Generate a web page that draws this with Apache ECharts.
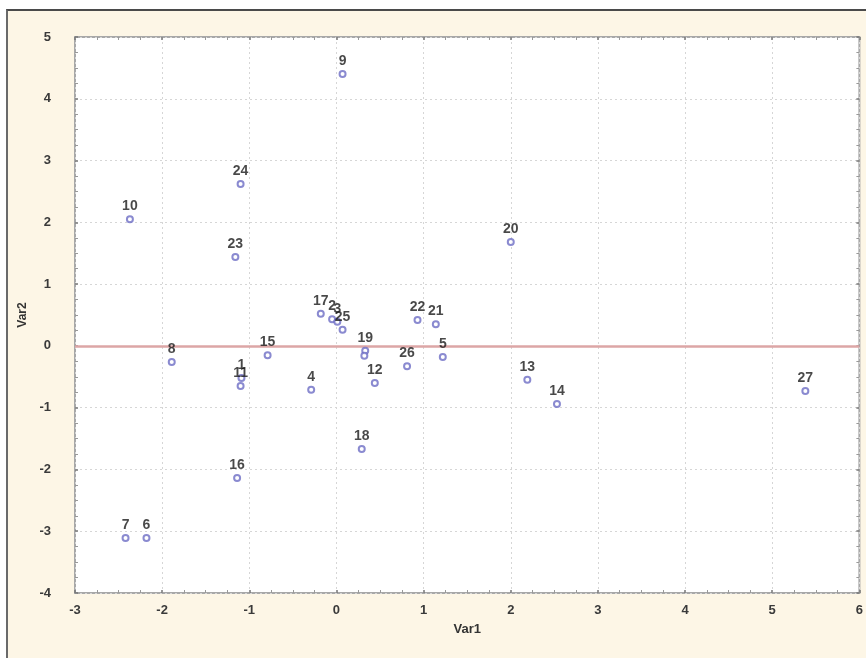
<!DOCTYPE html>
<html>
<head>
<meta charset="utf-8">
<script src="https://cdn.jsdelivr.net/npm/echarts@6/dist/echarts.min.js"></script>
<style>
  html, body { margin: 0; padding: 0; background: #ffffff; }
  #frame { position: absolute; left: 6px; top: 9px; width: 866px; height: 660px;
           background: #fdf6e6; border-top: 2px solid #4a4a4a; border-left: 2px solid #6a6a6a; }
  #chart { position: absolute; left: 0; top: 0; width: 866px; height: 658px; }
</style>
</head>
<body>
<div id="frame"></div>
<div id="chart"></div>
<script>
// Point labels and coordinates
const pointLabels = ['9','24','10','23','20','17','2','3','25','22','21','5','19','','26','12','4','18','13','14','27','8','15','1','11','16','7','6'];
const var1Values  = [0.07,-1.10,-2.37,-1.16,2.00,-0.18,-0.05,0.01,0.07,0.93,1.14,1.22,0.33,0.32,0.81,0.44,-0.29,0.29,2.19,2.53,5.38,-1.89,-0.79,-1.09,-1.10,-1.14,-2.42,-2.18];
const var2Values  = [4.40,2.62,2.05,1.44,1.68,0.52,0.43,0.39,0.26,0.42,0.35,-0.18,-0.08,-0.16,-0.33,-0.60,-0.71,-1.67,-0.55,-0.94,-0.73,-0.26,-0.15,-0.52,-0.65,-2.14,-3.11,-3.11];
const xTicks = { min: -3, max: 6, step: 1 };
const yTicks = { min: -4, max: 5, step: 1 };
const xName = 'Var1';
const yName = 'Var2';

const points = pointLabels.map((n, i) => ({ name: n, value: [var1Values[i], var2Values[i]] }));

const chart = echarts.init(document.getElementById('chart'), null, { renderer: 'canvas' });
const tickLabelStyle = { color: '#3a3a3a', fontFamily: 'Liberation Sans', fontSize: 13, fontWeight: 'bold' };
const baseAxis = {
  axisLine: { show: false, onZero: false },
  axisTick: { show: true, inside: true, length: 3, lineStyle: { color: '#777', width: 1.5 } },
  minorTick: { show: true, splitNumber: 4, length: 3, lineStyle: { color: '#999', width: 1 } },
  splitLine: { show: false }
};

chart.setOption({
  backgroundColor: 'transparent',
  animation: false,
  grid: { left: 75, top: 37, right: 4, bottom: 65, show: true, backgroundColor: '#ffffff',
          borderColor: '#a8a8a8', borderWidth: 2 },
  xAxis: [
    Object.assign({}, baseAxis, {
      type: 'value', min: xTicks.min, max: xTicks.max, interval: xTicks.step, position: 'bottom',
      name: xName, nameLocation: 'middle', nameGap: 30,
      nameTextStyle: { color: '#333', fontFamily: 'Liberation Sans', fontSize: 13, fontWeight: 'bold' },
      axisLabel: Object.assign({ margin: 11 }, tickLabelStyle),
      splitLine: { show: true, lineStyle: { color: '#d6d6d6', type: [2, 3], width: 1 } }
    }),
    Object.assign({}, baseAxis, {
      type: 'value', min: xTicks.min, max: xTicks.max, interval: xTicks.step, position: 'top',
      axisLabel: { show: false }
    })
  ],
  yAxis: [
    Object.assign({}, baseAxis, {
      type: 'value', min: yTicks.min, max: yTicks.max, interval: yTicks.step, position: 'left',
      name: yName, nameLocation: 'middle', nameGap: 45, nameRotate: 90,
      nameTextStyle: { color: '#333', fontFamily: 'Liberation Sans', fontSize: 12, fontWeight: 'bold' },
      axisLabel: Object.assign({ margin: 24, align: 'right' }, tickLabelStyle),
      splitLine: { show: true, lineStyle: { color: '#d6d6d6', type: [2, 3], width: 1 } }
    }),
    Object.assign({}, baseAxis, {
      type: 'value', min: yTicks.min, max: yTicks.max, interval: yTicks.step, position: 'right',
      axisLabel: { show: false }
    })
  ],
  series: [{
    type: 'scatter',
    data: points,
    symbol: 'emptyCircle',
    symbolSize: 6,
    itemStyle: { color: '#6d6dc4', borderWidth: 1.3 },
    label: { show: true, position: 'top', distance: 2, formatter: p => p.name,
             color: '#1a1a1a', fontFamily: 'Liberation Sans', fontSize: 14, fontWeight: 'bold' },
    labelLayout: { hideOverlap: false },
    markLine: {
      silent: true, symbol: ['none', 'none'], label: { show: false },
      lineStyle: { color: '#dca6a6', width: 2.5, type: 'solid' },
      data: [{ yAxis: 0 }]
    },
    z: 5
  }]
});
</script>
</body>
</html>
